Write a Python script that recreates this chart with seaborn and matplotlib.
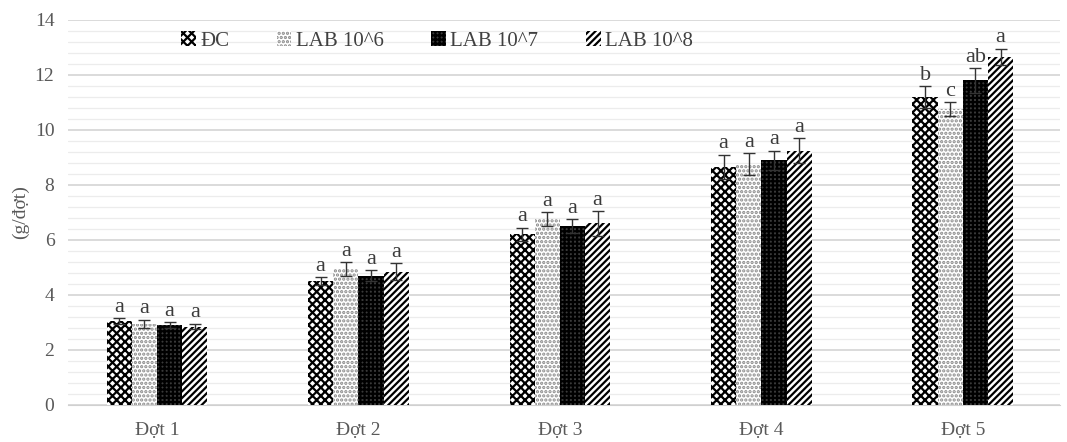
import pandas as pd
import numpy as np
import matplotlib
matplotlib.use("Agg")
import matplotlib.pyplot as plt
import seaborn as sns
from matplotlib.patches import Patch
from matplotlib.ticker import MultipleLocator

# Dữ liệu
dot_labels = ['Đợt 1', 'Đợt 2', 'Đợt 3', 'Đợt 4', 'Đợt 5']
treatments = ['ĐC', 'LAB 10^6', 'LAB 10^7', 'LAB 10^8']

val_dc = [3.05, 4.50, 6.20, 8.65, 11.20]
val_lab6 = [2.95, 4.95, 6.75, 8.75, 10.75]
val_lab7 = [2.90, 4.70, 6.50, 8.90, 11.80]
val_lab8 = [2.85, 4.85, 6.60, 9.25, 12.65]

err_dc = [0.10, 0.15, 0.25, 0.45, 0.40]
err_lab6 = [0.15, 0.25, 0.25, 0.40, 0.25]
err_lab7 = [0.10, 0.20, 0.25, 0.35, 0.45]
err_lab8 = [0.10, 0.30, 0.45, 0.45, 0.30]

let_dc = ['a', 'a', 'a', 'a', 'b']
let_lab6 = ['a', 'a', 'a', 'a', 'c']
let_lab7 = ['a', 'a', 'a', 'a', 'ab']
let_lab8 = ['a', 'a', 'a', 'a', 'a']

sns.set_style("white")
plt.rcParams['font.family'] = ['Liberation Serif', 'DejaVu Serif']
plt.rcParams['hatch.linewidth'] = 1.6

rows = []
for t, vals, errs, lets in zip(treatments,
                               [val_dc, val_lab6, val_lab7, val_lab8],
                               [err_dc, err_lab6, err_lab7, err_lab8],
                               [let_dc, let_lab6, let_lab7, let_lab8]):
    for d, v, e, l in zip(dot_labels, vals, errs, lets):
        rows.append({'Dot': d, 'NT': t, 'Gia_tri': v, 'SE': e, 'Chu': l})
df = pd.DataFrame(rows)

fig = plt.figure(figsize=(10.67, 4.42), dpi=100)
ax = fig.add_axes([0.064, 0.084, 0.929, 0.871])

faces = ['white', 'white', '#3a3a3a', 'white']
hatch_cols = ['black', '#8a8a8a', 'black', 'black']
hatches = ['xxxx', '....', '++++', '/////']

sns.barplot(data=df, x='Dot', y='Gia_tri', hue='NT', order=dot_labels,
            hue_order=treatments, errorbar=None, width=0.5, gap=0,
            palette=['white'] * 4, edgecolor='black', linewidth=0,
            ax=ax, legend=False, zorder=3)

for i, t in enumerate(treatments):
    cont = ax.containers[i]
    sub = df[df['NT'] == t].set_index('Dot').loc[dot_labels]
    for bar, (_, r) in zip(cont.patches, sub.iterrows()):
        bar.set_facecolor(faces[i])
        bar.set_hatch(hatches[i])
        bar.set_edgecolor(hatch_cols[i])
        bar.set_linewidth(0)
        cx = bar.get_x() + bar.get_width() / 2
        ax.errorbar(cx, r['Gia_tri'], yerr=r['SE'], fmt='none', ecolor='#333333',
                    elinewidth=1, capsize=4, capthick=1, zorder=4)
        ax.text(cx, r['Gia_tri'] + r['SE'] + 0.05, r['Chu'], ha='center', va='bottom',
                fontsize=16, color='#3b3b3b', zorder=5)

ax.set_ylim(0, 14)
ax.yaxis.set_major_locator(MultipleLocator(2))
ax.yaxis.set_minor_locator(MultipleLocator(0.4))
ax.grid(True, which='major', axis='y', color='#d4d4d4', linewidth=1.2, zorder=0)
ax.grid(True, which='minor', axis='y', color='#ececec', linewidth=0.9, zorder=0)
ax.set_axisbelow(True)
for s in ['top', 'right', 'left']:
    ax.spines[s].set_visible(False)
ax.spines['bottom'].set_color('#d0d0d0')
ax.tick_params(axis='both', which='both', length=0, labelsize=14, colors='#595959')
ax.tick_params(axis='y', pad=10)
ax.tick_params(axis='x', pad=12)
ax.set_xlabel('')
ax.set_ylabel('(g/đợt)', fontsize=14, color='#595959', labelpad=4)
ax.set_xlim(-0.44, 4.48)

handles = [Patch(facecolor=faces[i], hatch=hatches[i], edgecolor=hatch_cols[i], linewidth=0,
                 label=treatments[i]) for i in range(4)]
leg = ax.legend(handles=handles, loc='upper left', bbox_to_anchor=(0.095, 1.02), ncol=4,
                frameon=False, fontsize=15, handlelength=0.7, handleheight=0.7,
                handletextpad=0.2, columnspacing=2.3)
for txt in leg.get_texts():
    txt.set_color('#404040')

fig.savefig('out.png', dpi=100)
